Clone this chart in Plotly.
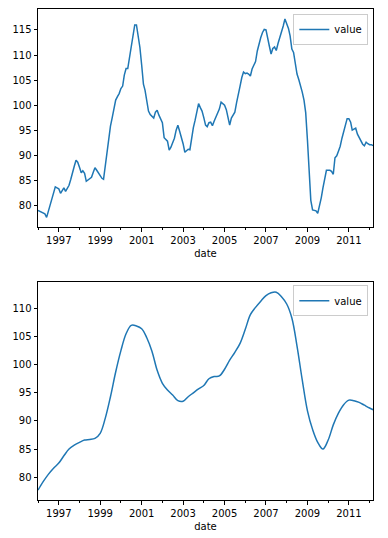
import pandas as pd
import plotly.graph_objects as go

# Monthly series, Jan 1996 .. Mar 2012
monthly_start = "1996-01-01"
value_1996 = [79.0, 78.8, 78.6, 78.5, 78.3, 77.6, 78.8, 80.2, 81.4, 83.0, 83.7, 83.5]
value_1997 = [83.3, 82.4, 83.0, 83.5, 82.8, 83.6, 84.0, 85.2, 86.3, 87.8, 89.0, 88.6]
value_1998 = [87.6, 86.5, 86.9, 86.4, 84.8, 85.1, 85.4, 85.6, 86.6, 87.5, 87.0, 86.4]
value_1999 = [85.9, 85.4, 85.2, 88.0, 90.5, 93.0, 95.8, 97.5, 99.3, 101.0, 101.7, 102.3]
value_2000 = [103.3, 103.8, 106.0, 107.3, 107.3, 109.5, 112.2, 114.0, 116.0, 116.0, 114.0, 111.5]
value_2001 = [108.0, 104.2, 103.0, 100.8, 98.8, 98.1, 97.8, 97.4, 98.6, 99.0, 98.0, 97.2]
value_2002 = [96.5, 93.5, 93.2, 92.8, 91.0, 91.6, 92.5, 93.4, 95.0, 96.0, 94.8, 93.8]
value_2003 = [92.3, 90.6, 90.9, 91.2, 91.1, 93.5, 95.5, 97.0, 98.8, 100.3, 99.5, 98.8]
value_2004 = [97.5, 96.0, 95.7, 96.5, 96.6, 95.9, 96.8, 97.5, 98.3, 99.2, 100.6, 100.3]
value_2005 = [100.0, 99.1, 97.8, 96.0, 97.4, 98.0, 98.6, 100.5, 102.5, 103.8, 105.5, 106.6]
value_2006 = [106.3, 106.4, 106.2, 105.8, 107.2, 108.0, 108.7, 110.8, 112.5, 113.5, 114.5, 115.1]
value_2007 = [115.0, 113.0, 111.8, 110.2, 111.3, 111.6, 110.9, 112.3, 113.4, 114.3, 115.8, 117.2]
value_2008 = [116.2, 115.3, 113.8, 111.2, 110.5, 108.0, 106.2, 105.1, 104.0, 102.6, 101.0, 98.5]
value_2009 = [93.0, 86.5, 81.0, 79.1, 79.0, 78.9, 78.4, 79.8, 81.5, 83.5, 85.3, 87.0]
value_2010 = [87.0, 87.0, 86.8, 86.2, 89.5, 89.9, 90.8, 91.8, 93.4, 94.8, 96.3, 97.3]
value_2011 = [97.3, 96.6, 95.0, 95.2, 95.4, 94.2, 93.5, 92.7, 92.2, 91.9, 92.6, 92.3]
value_2012 = [92.1, 92.1, 91.9]

values = (value_1996 + value_1997 + value_1998 + value_1999 + value_2000 + value_2001
          + value_2002 + value_2003 + value_2004 + value_2005 + value_2006 + value_2007
          + value_2008 + value_2009 + value_2010 + value_2011 + value_2012)
dates = pd.date_range(monthly_start, periods=len(values), freq="MS")

# Smoothed series read at quarterly points (plus the final month)
smooth_values = [
    77.7, 79.2, 80.5, 81.6,
    82.5, 83.8, 85.0, 85.7,
    86.2, 86.6, 86.7, 86.9,
    87.8, 90.5, 94.3, 98.7,
    102.5, 105.5, 107.0, 106.9,
    106.4, 104.8, 102.4, 99.0,
    96.7, 95.5, 94.6, 93.6,
    93.5, 94.3, 95.0, 95.7,
    96.3, 97.5, 97.9, 98.0,
    99.2, 100.8, 102.2, 103.8,
    106.3, 108.9, 110.2, 111.3,
    112.3, 112.8, 112.9, 112.1,
    110.8, 108.3, 103.3, 97.3,
    91.8, 88.5, 86.2, 85.0,
    86.6, 89.3, 91.4, 92.9,
    93.7, 93.6, 93.3, 92.8,
    92.3, 92.0,
]
smooth_dates = pd.date_range("1996-01-01", "2012-01-01", freq="QS").append(
    pd.DatetimeIndex(["2012-03-01"]))

series_name = "value"
x_label = "date"

BLUE = "#1f77b4"
FONT = dict(family="DejaVu Sans", size=10, color="#000000")

def auto_range(v):
    lo, hi = min(v), max(v)
    pad = 0.05 * (hi - lo)
    return [lo - pad, hi + pad]

fig = go.Figure()
fig.add_trace(go.Scatter(x=dates, y=values, mode="lines", name=series_name,
                         line=dict(color=BLUE, width=1.5), xaxis="x", yaxis="y",
                         legend="legend"))
fig.add_trace(go.Scatter(x=smooth_dates, y=smooth_values, mode="lines", name=series_name,
                         line=dict(color=BLUE, width=1.5, shape="spline", smoothing=1.0),
                         xaxis="x2", yaxis="y2", legend="legend2"))

xrange = [dates[0], dates[-1]]

def xaxis(domain_anchor):
    return dict(
        anchor=domain_anchor, range=xrange, type="date", automargin=False,
        tick0="1997-01-01", dtick="M24", tickformat="%Y",
        ticks="outside", ticklen=3.5, tickwidth=0.8, tickcolor="black",
        minor=dict(dtick="M12", tick0="1996-01-01", ticks="outside", ticklen=2,
                   tickwidth=0.6, tickcolor="black", showgrid=False),
        showline=True, mirror=True, linecolor="black", linewidth=1,
        showgrid=False, zeroline=False, tickfont=FONT,
        title=dict(text=x_label, font=FONT, standoff=5),
    )

def yaxis(domain, anchor, rng):
    return dict(
        domain=domain, anchor=anchor, range=rng, dtick=5, tick0=0, automargin=False,
        ticks="outside", ticklen=3.5, tickwidth=0.8, tickcolor="black",
        showline=True, mirror=True, linecolor="black", linewidth=1,
        showgrid=False, zeroline=False, tickfont=FONT,
    )

legend_style = dict(
    bgcolor="rgba(255,255,255,0.8)", bordercolor="#cccccc", borderwidth=1,
    font=FONT, xanchor="right", yanchor="top", itemwidth=30,
    tracegroupgap=0,
)

fig.update_layout(
    width=388, height=538,
    margin=dict(l=38, r=15, t=9, b=38, autoexpand=False),
    paper_bgcolor="white", plot_bgcolor="white",
    font=FONT,
    xaxis=xaxis("y"),
    yaxis=yaxis([0.5554, 1.0], "x", auto_range(values)),
    xaxis2=xaxis("y2"),
    yaxis2=yaxis([0.0, 0.4434], "x2", auto_range(smooth_values)),
    legend=dict(x=0.986, y=0.99, **legend_style),
    legend2=dict(x=0.986, y=0.4374, **legend_style),
    showlegend=True,
)

fig.write_html("out.html", config={"displayModeBar": False},
               post_script="document.body.style.margin='0';document.body.style.overflow='hidden';")
